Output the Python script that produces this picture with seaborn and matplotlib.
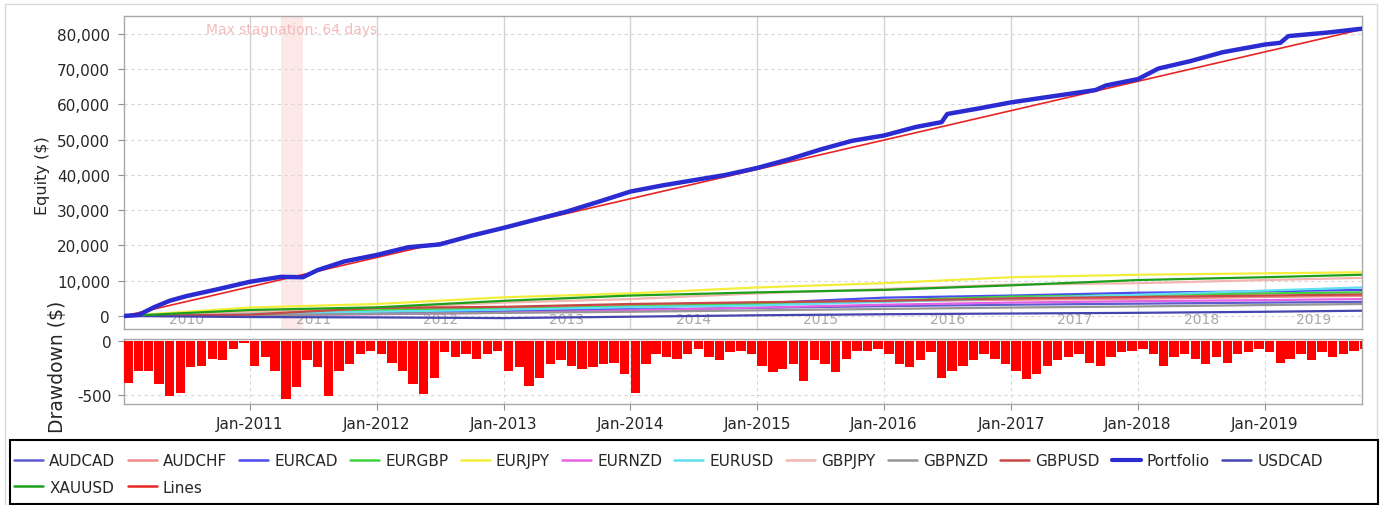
import pandas as pd
import matplotlib
matplotlib.use("Agg")
import matplotlib.pyplot as plt
import matplotlib.dates as mdates
from matplotlib.patches import Rectangle
from matplotlib.lines import Line2D
import seaborn as sns

sns.set_style("white")
plt.rcParams['font.family'] = ['DejaVu Sans']

# ---- data ----
start_date = '2010-01-04'
end_date = '2019-10-08'

# yearly checkpoints of the single symbols
sym_dates = ['2010-01-04', '2011-01-01', '2012-01-01', '2013-01-01', '2014-01-01', '2015-01-01',
             '2016-01-01', '2017-01-01', '2018-01-01', '2019-01-01', '2019-10-08']
audcad = [0, 300, 700, 1200, 1800, 2300, 2800, 3200, 3500, 3800, 4000]
audchf = [0, 300, 1800, 2400, 3100, 3700, 4200, 4600, 4900, 5400, 5700]
eurcad = [0, 500, 1000, 1600, 2300, 3600, 5200, 5800, 6600, 7000, 7400]
eurgbp = [0, 1200, 1800, 2000, 2700, 3400, 4400, 5500, 5900, 6400, 6700]
eurjpy = [0, 2400, 3400, 5300, 6400, 8100, 9300, 11000, 11700, 12100, 12400]
eurnzd = [0, 200, 500, 900, 1600, 2400, 3200, 3800, 4200, 4500, 4800]
eurusd = [0, 600, 1200, 1800, 2500, 3000, 4000, 5000, 6000, 7200, 8100]
gbpjpy = [0, 1200, 2200, 3800, 4800, 6400, 7650, 8900, 9300, 10200, 10800]
gbpnzd = [0, 200, 600, 900, 1200, 1600, 2000, 2400, 2700, 3100, 3400]
gbpusd = [0, 400, 2300, 2600, 3400, 3900, 4300, 5000, 5400, 5800, 6100]
usdcad = [0, -300, -400, -600, -200, 200, 500, 700, 900, 1200, 1500]
xauusd = [0, 1700, 2450, 4300, 5800, 6700, 7400, 8700, 10200, 11000, 11700]

port_dates = ['2010-01-04', '2010-02-15', '2010-04-01', '2010-05-15', '2010-07-01', '2010-10-01',
              '2011-01-01', '2011-03-31', '2011-06-03', '2011-07-15', '2011-10-01',
              '2012-01-01', '2012-04-01', '2012-07-01', '2012-10-01',
              '2013-01-01', '2013-04-01', '2013-07-01', '2013-10-01',
              '2014-01-01', '2014-04-01', '2014-07-01', '2014-10-01',
              '2015-01-01', '2015-04-01', '2015-07-01', '2015-10-01',
              '2016-01-01', '2016-04-01', '2016-06-15', '2016-07-01', '2016-10-01',
              '2017-01-01', '2017-04-01', '2017-07-01', '2017-09-01', '2017-10-01',
              '2018-01-01', '2018-03-01', '2018-06-01', '2018-09-01',
              '2019-01-01', '2019-02-15', '2019-03-10', '2019-07-01', '2019-10-08']
portfolio = [0, 300, 2500, 4300, 5600, 7600,
             9700, 11100, 11000, 13000, 15500,
             17300, 19500, 20300, 22800,
             25000, 27300, 29600, 32400,
             35300, 37000, 38500, 40000,
             42000, 44400, 47200, 49700,
             51200, 53600, 55000, 57300, 58900,
             60600, 61900, 63200, 64100, 65400,
             67200, 70200, 72300, 74800,
             77000, 77500, 79400, 80400, 81500]

lines_dates = ['2010-01-04', '2019-10-08']
lines_values = [0, 81300]

# monthly drawdown troughs, Jan-2010 .. Oct-2019
drawdown = [-385, -275, -275, -400, -510, -480, -245, -230, -170, -180, -75, -15,
            -230, -150, -275, -540, -430, -180, -245, -510, -275, -215, -120, -90,
            -120, -200, -275, -400, -495, -340, -105, -150, -120, -170, -120, -90,
            -275, -245, -415, -340, -215, -180, -230, -260, -245, -215, -200, -310,
            -480, -215, -120, -150, -170, -120, -75, -150, -180, -105, -90, -120,
            -230, -290, -260, -215, -370, -180, -215, -290, -170, -90, -90, -75,
            -120, -215, -245, -180, -105, -340, -275, -230, -180, -120, -170, -215,
            -275, -355, -310, -230, -180, -150, -120, -200, -230, -150, -105, -90,
            -75, -120, -230, -150, -120, -170, -215, -150, -200, -120, -105, -75,
            -105, -200, -170, -120, -180, -105, -150, -120, -90, -75]
dd_dates = pd.date_range('2010-01-01', periods=len(drawdown), freq='MS') + pd.Timedelta(days=14)

stag_start = '2011-03-31'
stag_end = '2011-06-03'
stag_text = 'Max stagnation: 64 days'

legend_order = ['AUDCAD', 'AUDCHF', 'EURCAD', 'EURGBP', 'EURJPY', 'EURNZD', 'EURUSD',
                'GBPJPY', 'GBPNZD', 'GBPUSD', 'Portfolio', 'USDCAD', 'XAUUSD', 'Lines']
colors = {
    'AUDCAD': '#5c5cd0', 'AUDCHF': '#ee8a8a', 'EURCAD': '#4b4bf0', 'EURGBP': '#3fd33f',
    'EURJPY': '#f2ee3a', 'EURNZD': '#e462e4', 'EURUSD': '#5fdff0', 'GBPJPY': '#f2b6b0',
    'GBPNZD': '#969696', 'GBPUSD': '#c84848', 'Portfolio': '#2b2bd2', 'USDCAD': '#4545b0',
    'XAUUSD': '#1ca01c', 'Lines': '#e82525',
}

series = {'AUDCAD': audcad, 'AUDCHF': audchf, 'EURCAD': eurcad, 'EURGBP': eurgbp,
          'EURJPY': eurjpy, 'EURNZD': eurnzd, 'EURUSD': eurusd, 'GBPJPY': gbpjpy,
          'GBPNZD': gbpnzd, 'GBPUSD': gbpusd, 'USDCAD': usdcad, 'XAUUSD': xauusd}
frames = [pd.DataFrame({'date': pd.to_datetime(sym_dates), 'equity': v, 'symbol': k})
          for k, v in series.items()]
df_sym = pd.concat(frames, ignore_index=True)

# ---- figure ----
W, H = 1386, 506
fig = plt.figure(figsize=(W / 100, H / 100), dpi=100)
ax1 = fig.add_axes([124 / W, 1 - 330 / H, (1362 - 124) / W, (330 - 17) / H])
ax2 = fig.add_axes([124 / W, 1 - 405 / H, (1362 - 124) / W, (405 - 340) / H])

x0, x1 = pd.Timestamp(start_date), pd.Timestamp(end_date)
years = pd.date_range('2011-01-01', '2019-01-01', freq='YS')

# top panel
ax1.axvspan(pd.Timestamp(stag_start), pd.Timestamp(stag_end), color='#fde8e8', lw=0, zorder=0)
sns.lineplot(data=df_sym, x='date', y='equity', hue='symbol', palette=colors,
             lw=1.6, legend=False, ax=ax1, estimator=None, zorder=3)
sns.lineplot(x=pd.to_datetime(lines_dates), y=lines_values, color=colors['Lines'],
             lw=1.2, ax=ax1, zorder=4)
sns.lineplot(x=pd.to_datetime(port_dates), y=portfolio, color=colors['Portfolio'],
             lw=3.2, ax=ax1, zorder=5)

ax1.set_xlim(x0, x1)
ax1.set_ylim(-3690, 85100)
ax1.set_yticks(range(0, 80001, 10000))
ax1.yaxis.set_major_formatter(matplotlib.ticker.FuncFormatter(lambda v, p: f'{int(v):,}'))
ax1.set_xticks(years)
ax1.set_xticklabels([])
ax1.tick_params(axis='x', length=0)
ax1.tick_params(axis='y', length=4, width=0.8, color='#909090', labelsize=11, pad=6, left=True)
ax1.grid(axis='y', ls=(0, (3, 3)), color='#d6d6d6', lw=0.8)
ax1.grid(axis='x', ls='-', color='#d2d2d2', lw=1.0)
ax1.set_axisbelow(True)
ax1.set_xlabel('')
ax1.set_ylabel('')

# year labels in the middle of each visible year
for yr in range(2010, 2020):
    a = max(pd.Timestamp(f'{yr}-01-01'), x0)
    b = min(pd.Timestamp(f'{yr + 1}-01-01'), x1)
    ax1.text(a + (b - a) / 2, -850, str(yr), ha='center', va='center',
             fontsize=10, color='#a8a8a8', zorder=1)

ax1.text(pd.Timestamp(stag_start) + (pd.Timestamp(stag_end) - pd.Timestamp(stag_start)) / 2,
         81400, stag_text, ha='center', va='center', fontsize=10, color='#f4baba', zorder=6)

# drawdown panel
ax2.bar(dd_dates, drawdown, width=27, color='#ff0000', lw=0, zorder=3)
ax2.set_xlim(x0, x1)
ax2.set_ylim(-583, 18)
ax2.set_yticks([0, -500])
ax2.set_yticklabels(['0', '-500'])
ax2.set_xticks(years)
ax2.xaxis.set_major_formatter(mdates.DateFormatter('%b-%Y'))
ax2.tick_params(axis='both', length=4, width=0.8, color='#909090', labelsize=11, pad=5,
                left=True, bottom=True)
ax2.grid(axis='both', ls=(0, (3, 3)), color='#d6d6d6', lw=0.8)
ax2.set_axisbelow(True)

for ax in (ax1, ax2):
    for s in ax.spines.values():
        s.set_color('#a8a8a8')
        s.set_linewidth(1.0)

fig.text(43 / W, 1 - 176 / H, 'Equity ($)', rotation=90, ha='center', va='center', fontsize=11.5)
fig.text(58 / W, 1 - 367 / H, 'Drawdown ($)', rotation=90, ha='center', va='center', fontsize=13.5)

# outer border and legend box
fig.patches.append(Rectangle((5 / W, 0), (1377 - 5) / W, 1 - 5 / H, transform=fig.transFigure,
                             fill=False, edgecolor='#dadada', lw=1.0))
fig.patches.append(Rectangle((10 / W, 1 / H), (1378 - 10) / W, (505 - 441) / H,
                             transform=fig.transFigure, facecolor='white',
                             edgecolor='black', lw=1.5, zorder=5))

handles = {k: Line2D([], [], color=c, lw=3 if k == 'Portfolio' else 1.8) for k, c in colors.items()}
# 12 columns, second row holds the last two entries
order = [legend_order[0], legend_order[12], legend_order[1], legend_order[13]] + legend_order[2:12]
leg = fig.legend([handles[k] for k in order], order, loc='upper left',
                 bbox_to_anchor=(8 / W, 1 - 448 / H), ncol=12, frameon=False, fontsize=11,
                 handlelength=1.9, handletextpad=0.4, columnspacing=0.8, labelspacing=0.75,
                 borderaxespad=0)
leg.set_zorder(6)

fig.savefig('out.png', dpi=100)
